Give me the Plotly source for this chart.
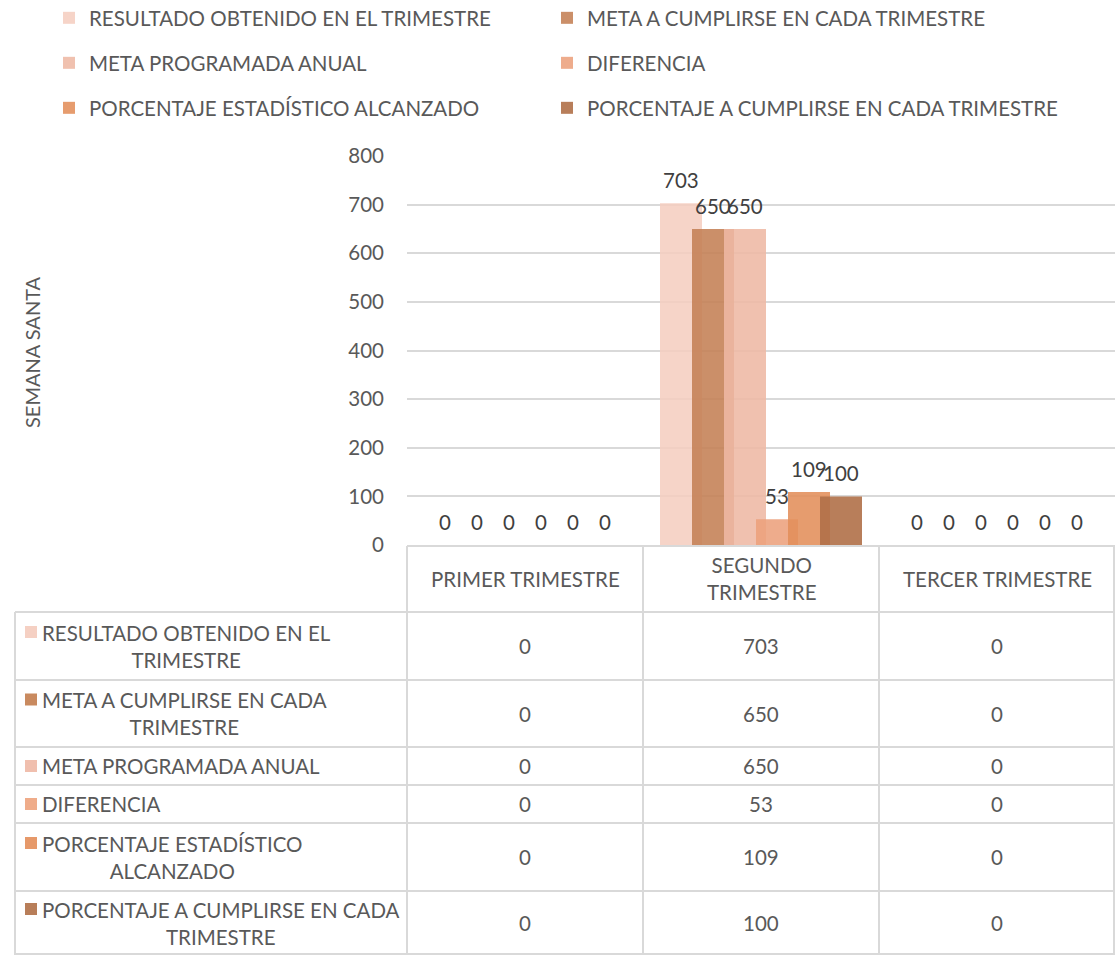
import plotly.graph_objects as go

W, H = 1115, 955

categories = ["PRIMER TRIMESTRE", "SEGUNDO TRIMESTRE", "TERCER TRIMESTRE"]
category_labels = ["PRIMER TRIMESTRE", "SEGUNDO<br>TRIMESTRE", "TERCER TRIMESTRE"]

series_names = [
    "RESULTADO OBTENIDO EN EL TRIMESTRE",
    "META A CUMPLIRSE EN CADA TRIMESTRE",
    "META PROGRAMADA ANUAL",
    "DIFERENCIA",
    "PORCENTAJE ESTADÍSTICO ALCANZADO",
    "PORCENTAJE A CUMPLIRSE EN CADA TRIMESTRE",
]
table_row_labels = [
    "RESULTADO OBTENIDO EN EL<br>TRIMESTRE",
    "META A CUMPLIRSE EN CADA<br>TRIMESTRE",
    "META PROGRAMADA ANUAL",
    "DIFERENCIA",
    "PORCENTAJE ESTADÍSTICO<br>ALCANZADO",
    "PORCENTAJE A CUMPLIRSE EN CADA<br>TRIMESTRE",
]

resultado_obtenido = [0, 703, 0]
meta_cumplirse = [0, 650, 0]
meta_programada = [0, 650, 0]
diferencia = [0, 53, 0]
porcentaje_alcanzado = [0, 109, 0]
porcentaje_cumplirse = [0, 100, 0]

series_values = [resultado_obtenido, meta_cumplirse, meta_programada,
                 diferencia, porcentaje_alcanzado, porcentaje_cumplirse]

colors = ["rgba(244,204,190,0.85)", "rgba(196,128,84,0.88)", "rgba(238,184,164,0.88)",
          "rgba(236,160,124,0.88)", "rgba(226,142,90,0.88)", "rgba(176,112,72,0.9)"]
swatch = ["#F5D0C3", "#C98A5F", "#F0BFAE", "#EFAC8A", "#E6996A", "#B87E59"]

FONT = "Lato"
TXT = "#595959"
LINE = "#D9D9D9"
FS = 20.5


def px(x):
    return x / W


def py(y):
    return 1 - y / H


# plot area in pixels
PL, PR, PT, PB = 407, 1115, 156, 545
cat_w = (PR - PL) / 3
bar_w = 42 / cat_w
step = 32 / cat_w
first_off = -101 / cat_w

fig = go.Figure()
legend_ids = ["legend", "legend2", "legend3", "legend4", "legend5", "legend6"]
for i, (name, vals) in enumerate(zip(series_names, series_values)):
    off = first_off + i * step
    fig.add_trace(go.Bar(
        x=categories, y=vals, name=name,
        marker=dict(color=colors[i], line=dict(width=0)),
        width=bar_w, offset=off, showlegend=True,
        cliponaxis=False, legend=legend_ids[i],
    ))
    # data labels above each bar
    for c, v in zip(categories, vals):
        fig.add_annotation(x=c, y=v, xref="x", yref="y", text=str(v),
                           showarrow=False, xanchor="center", yanchor="bottom",
                           xshift=(off + bar_w / 2) * cat_w, yshift=9,
                           font=dict(family=FONT, size=FS, color="#404040"))

fig.update_layout(
    width=W, height=H,
    showlegend=True,
    margin=dict(l=0, r=0, t=0, b=0, autoexpand=False),
    paper_bgcolor="white", plot_bgcolor="white",
    barmode="overlay",
    font=dict(family=FONT, color=TXT),
    xaxis=dict(domain=[px(PL), px(PR)], showticklabels=False, showgrid=False,
               zeroline=False, showline=False, ticks=""),
    yaxis=dict(domain=[py(PB), py(PT)], range=[0, 800], dtick=100,
               showgrid=True, gridcolor="#D9D9D9", gridwidth=1.5,
               zeroline=False, showline=False, ticks="",
               tickfont=dict(family=FONT, size=FS, color=TXT),
               ticklabelstandoff=22),
)

legend_common = dict(orientation="h", xanchor="left", yanchor="middle",
                     font=dict(family=FONT, size=FS, color=TXT),
                     bgcolor="rgba(0,0,0,0)", itemwidth=30, visible=True)
legend_x = [49, 547]
legend_y = [18, 63, 108]
for i, lid in enumerate(legend_ids):
    fig.update_layout({lid: dict(x=px(legend_x[i % 2]), y=py(legend_y[i // 2]),
                                 **legend_common)})

# y axis title
fig.add_annotation(x=px(18), y=py(352), xref="paper", yref="paper",
                   text="SEMANA SANTA", textangle=-90, showarrow=False,
                   font=dict(family=FONT, size=20, color=TXT))

# data table
shapes = []
row_bounds = [612, 680, 747, 785, 823, 891, 955]
col_bounds = [PL, PL + cat_w, PL + 2 * cat_w, PR - 1]


def hline(x0, x1, y):
    shapes.append(dict(type="line", xref="paper", yref="paper", x0=px(x0), x1=px(x1),
                       y0=py(y), y1=py(y), line=dict(color=LINE, width=2)))


def vline(x, y0, y1):
    shapes.append(dict(type="line", xref="paper", yref="paper", x0=px(x), x1=px(x),
                       y0=py(y0), y1=py(y1), line=dict(color=LINE, width=2)))


hline(PL, PR, PB + 1)
for yb in row_bounds:
    hline(15, PR, yb if yb < H else H - 1)
for xb in col_bounds:
    vline(xb, PB + 1, H)
vline(15, row_bounds[0], H)

# header labels
for j, lab in enumerate(category_labels):
    fig.add_annotation(x=px(PL + (j + 0.5) * cat_w), y=py((PB + row_bounds[0]) / 2),
                       xref="paper", yref="paper", text=lab, showarrow=False,
                       xanchor="center", yanchor="middle", align="center",
                       font=dict(family=FONT, size=FS, color=TXT))

for i, lab in enumerate(table_row_labels):
    yc = (row_bounds[i] + row_bounds[i + 1]) / 2
    two = "<br>" in lab
    fig.add_annotation(x=px(40), y=py(yc), xref="paper", yref="paper", text=lab,
                       showarrow=False, xanchor="left", yanchor="middle", align="center",
                       font=dict(family=FONT, size=FS, color=TXT))
    sy = yc - 14 if two else yc
    shapes.append(dict(type="rect", xref="paper", yref="paper",
                       x0=px(25), x1=px(37), y0=py(sy - 6), y1=py(sy + 6),
                       fillcolor=swatch[i], line=dict(width=0)))
    for j in range(3):
        fig.add_annotation(x=px(PL + (j + 0.5) * cat_w), y=py(yc), xref="paper", yref="paper",
                           text=str(series_values[i][j]), showarrow=False,
                           xanchor="center", yanchor="middle",
                           font=dict(family=FONT, size=FS, color=TXT))

fig.update_layout(shapes=shapes)
fig.write_html("out.html", config={"displayModeBar": False},
               post_script="document.body.style.margin='0';")
